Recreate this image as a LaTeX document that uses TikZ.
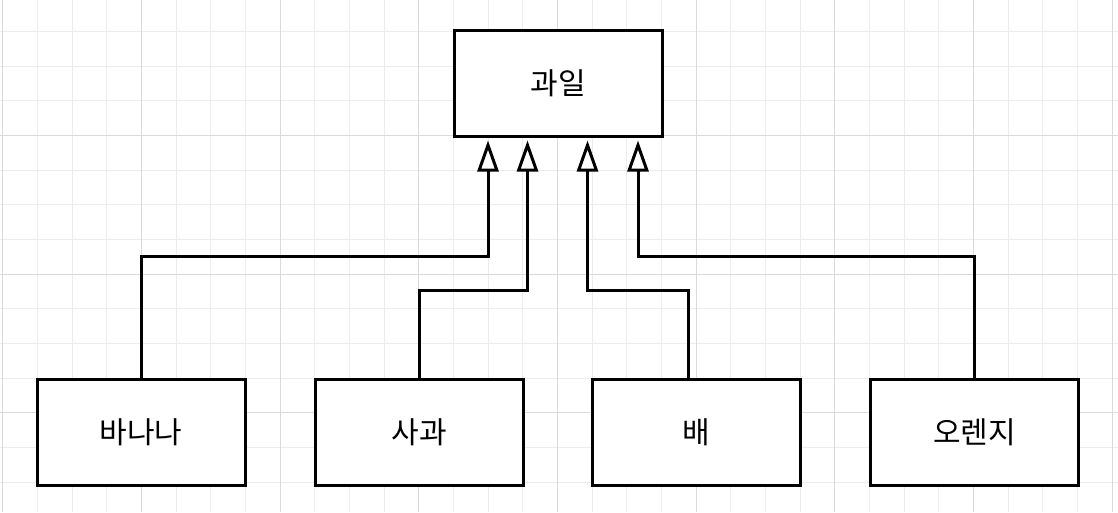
\documentclass[tikz,border=0pt]{standalone}
\usepackage{fontspec}
\newfontfamily\kr{Noto Sans CJK KR}
\usetikzlibrary{arrows.meta}
\tikzset{
  classbox/.style={draw, line width=3pt, minimum width=208pt, minimum height=106pt, fill=white, font=\kr\fontsize{30}{34}\selectfont},
  inherit/.style={line width=3pt, -{Triangle[width=21pt,length=31pt,fill=white]}, shorten >=2.5pt},
  minorgrid/.style={color={rgb,255:red,236;green,236;blue,236}, line width=1pt},
  majorgrid/.style={color={rgb,255:red,218;green,218;blue,218}, line width=1pt}
}
\begin{document}
\begin{tikzpicture}[x=1pt,y=1pt,yscale=-1,xscale=1]
\useasboundingbox (0,0) rectangle (1118,512);
\fill[white] (0,0) rectangle (1118,512);
%Grid
\foreach \i in {0,...,32} {
  \draw[minorgrid] ({2.8+\i*34.67},0) -- ({2.8+\i*34.67},512);
}
\foreach \j in {1,...,15} {
  \draw[minorgrid] (0,{-3.1+\j*34.67}) -- (1118,{-3.1+\j*34.67});
}
\foreach \i in {0,4,...,32} {
  \draw[majorgrid] ({2.8+\i*34.67},0) -- ({2.8+\i*34.67},512);
}
\foreach \j in {4,8,12} {
  \draw[majorgrid] (0,{-3.1+\j*34.67}) -- (1118,{-3.1+\j*34.67});
}

%Classes
\node[classbox] (fruit) at (558,83.5) {과일};
\node[classbox] (banana) at (141,432) {바나나};
\node[classbox] (apple) at (419,432) {사과};
\node[classbox] (pear) at (696,432) {배};
\node[classbox] (orange) at (974.5,432) {오렌지};

%Connectors
\draw[inherit] (banana.north) -- ++(0,-121) -| ([xshift=-70]fruit.south);
\draw[inherit] (apple.north) -- ++(0,-87) -| ([xshift=-30.5]fruit.south);
\draw[inherit] ([xshift=-8]pear.north) -- ++(0,-87) -| ([xshift=29.5]fruit.south);
\draw[inherit] (orange.north) -- ++(0,-121) -| ([xshift=80]fruit.south);
\end{tikzpicture}
\end{document}
